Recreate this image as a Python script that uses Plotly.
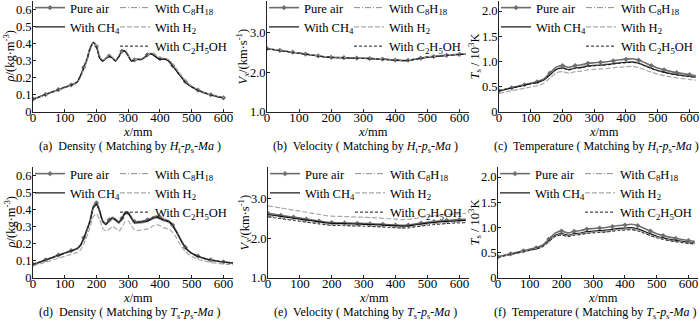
import plotly.graph_objects as go

# ---------------- data ----------------
X_DENS_A = list(range(0, 601, 10))
X_DENS_D = list(range(0, 631, 10))
X_VT = list(range(0, 621, 20))

SERIES = ["Pure air", "With CH<sub>4</sub>", "With C<sub>8</sub>H<sub>18</sub>",
          "With H<sub>2</sub>", "With C<sub>2</sub>H<sub>5</sub>OH"]

# (a) density, matching by Ht-ps-Ma
AIR_A = [0.075,0.082,0.089,0.096,0.103,0.110,0.117,0.124,0.131,0.138,0.145,0.151,0.158,0.165,0.178,0.215,0.262,0.310,0.375,0.408,0.385,0.318,0.300,0.315,0.328,0.318,0.300,0.325,0.356,0.358,0.330,0.300,0.305,0.310,0.308,0.318,0.335,0.342,0.335,0.320,0.312,0.312,0.308,0.295,0.272,0.248,0.222,0.200,0.178,0.160,0.148,0.138,0.128,0.120,0.113,0.107,0.101,0.096,0.091,0.087,0.083]
CH4_A = [0.074,0.081,0.088,0.095,0.102,0.109,0.116,0.123,0.130,0.137,0.144,0.150,0.157,0.164,0.176,0.212,0.258,0.306,0.370,0.404,0.382,0.316,0.298,0.313,0.326,0.316,0.298,0.322,0.353,0.355,0.328,0.298,0.303,0.308,0.306,0.316,0.333,0.340,0.333,0.318,0.310,0.310,0.306,0.293,0.270,0.246,0.220,0.198,0.176,0.159,0.147,0.137,0.127,0.119,0.112,0.106,0.100,0.095,0.090,0.086,0.082]
C8_A = [0.076,0.083,0.090,0.097,0.104,0.111,0.118,0.125,0.132,0.139,0.146,0.152,0.159,0.166,0.180,0.218,0.266,0.315,0.380,0.405,0.380,0.320,0.303,0.318,0.330,0.320,0.303,0.327,0.357,0.357,0.328,0.302,0.307,0.312,0.311,0.322,0.338,0.344,0.338,0.324,0.316,0.315,0.311,0.298,0.275,0.251,0.225,0.202,0.180,0.162,0.150,0.139,0.129,0.121,0.114,0.108,0.102,0.097,0.092,0.088,0.084]
H2_A = [0.073,0.080,0.087,0.094,0.101,0.108,0.115,0.122,0.129,0.136,0.143,0.149,0.156,0.162,0.172,0.205,0.250,0.298,0.360,0.402,0.392,0.330,0.304,0.314,0.330,0.322,0.304,0.318,0.350,0.362,0.338,0.306,0.303,0.310,0.310,0.316,0.330,0.345,0.345,0.330,0.318,0.316,0.314,0.303,0.282,0.258,0.232,0.208,0.185,0.165,0.152,0.141,0.131,0.122,0.115,0.108,0.102,0.097,0.092,0.088,0.084]
ETH_A = [0.075,0.082,0.089,0.096,0.103,0.110,0.117,0.124,0.131,0.138,0.145,0.151,0.158,0.165,0.177,0.214,0.261,0.309,0.373,0.407,0.384,0.317,0.299,0.314,0.327,0.317,0.299,0.324,0.355,0.357,0.329,0.299,0.304,0.309,0.307,0.317,0.334,0.341,0.334,0.319,0.311,0.311,0.307,0.294,0.271,0.247,0.221,0.199,0.177,0.160,0.148,0.138,0.128,0.120,0.113,0.107,0.101,0.096,0.091,0.087,0.083]

# (b) velocity, matching by Ht-ps-Ma
AIR_B = [2.600,2.577,2.554,2.531,2.508,2.485,2.462,2.439,2.416,2.393,2.378,2.374,2.370,2.366,2.361,2.356,2.350,2.342,2.333,2.322,2.311,2.300,2.306,2.330,2.360,2.385,2.400,2.415,2.430,2.445,2.455,2.460]
CH4_B = [2.598,2.575,2.552,2.529,2.506,2.483,2.460,2.437,2.414,2.391,2.376,2.372,2.368,2.364,2.359,2.354,2.348,2.340,2.331,2.320,2.309,2.298,2.304,2.328,2.358,2.383,2.398,2.413,2.428,2.443,2.453,2.458]
C8_B = [2.602,2.579,2.556,2.533,2.510,2.487,2.464,2.441,2.418,2.395,2.380,2.376,2.372,2.368,2.363,2.358,2.352,2.344,2.335,2.324,2.313,2.302,2.308,2.332,2.362,2.387,2.402,2.417,2.432,2.447,2.457,2.462]
H2_B = [2.605,2.582,2.559,2.536,2.513,2.490,2.467,2.444,2.421,2.398,2.383,2.379,2.375,2.371,2.366,2.361,2.355,2.347,2.338,2.327,2.316,2.305,2.311,2.335,2.365,2.390,2.405,2.420,2.435,2.450,2.460,2.465]
ETH_B = [2.596,2.573,2.550,2.527,2.504,2.481,2.458,2.435,2.412,2.389,2.374,2.370,2.366,2.362,2.357,2.352,2.346,2.338,2.329,2.318,2.307,2.296,2.302,2.326,2.356,2.381,2.396,2.411,2.426,2.441,2.451,2.456]

# (c) temperature (10^3 K), matching by Ht-ps-Ma
AIR_C = [0.42,0.45,0.48,0.51,0.54,0.57,0.60,0.65,0.77,0.89,0.92,0.885,0.92,0.935,0.965,0.975,0.985,0.995,1.015,1.035,1.045,1.055,1.03,0.975,0.92,0.87,0.835,0.805,0.78,0.76,0.74,0.72]
CH4_C = [0.42,0.448,0.476,0.504,0.532,0.56,0.588,0.63,0.735,0.845,0.875,0.84,0.872,0.885,0.913,0.922,0.932,0.941,0.958,0.975,0.983,0.992,0.968,0.918,0.868,0.823,0.79,0.762,0.74,0.722,0.705,0.69]
C8_C = [0.425,0.453,0.481,0.509,0.537,0.565,0.593,0.636,0.745,0.855,0.885,0.85,0.882,0.895,0.923,0.932,0.942,0.951,0.968,0.986,0.995,1.005,0.98,0.93,0.878,0.832,0.798,0.77,0.748,0.729,0.712,0.697]
H2_C = [0.37,0.395,0.42,0.445,0.47,0.495,0.52,0.565,0.67,0.775,0.80,0.77,0.80,0.81,0.835,0.845,0.853,0.86,0.875,0.89,0.897,0.905,0.88,0.835,0.79,0.75,0.72,0.695,0.675,0.66,0.645,0.63]
ETH_C = [0.418,0.446,0.474,0.502,0.530,0.558,0.586,0.627,0.730,0.838,0.868,0.833,0.865,0.878,0.905,0.914,0.924,0.933,0.950,0.967,0.975,0.984,0.96,0.91,0.861,0.816,0.784,0.756,0.734,0.716,0.700,0.685]

# (d) density, matching by Ts-ps-Ma
AIR_D = [0.080,0.086,0.093,0.100,0.107,0.113,0.120,0.127,0.134,0.140,0.147,0.154,0.160,0.167,0.175,0.195,0.235,0.285,0.340,0.420,0.440,0.395,0.335,0.320,0.340,0.355,0.345,0.330,0.350,0.385,0.385,0.355,0.330,0.330,0.332,0.335,0.340,0.348,0.358,0.362,0.355,0.345,0.340,0.332,0.310,0.280,0.245,0.210,0.180,0.160,0.146,0.136,0.128,0.121,0.115,0.110,0.106,0.103,0.100,0.097,0.094,0.092,0.090,0.088]
CH4_D = [0.078,0.084,0.091,0.098,0.105,0.111,0.118,0.125,0.131,0.138,0.145,0.151,0.158,0.164,0.172,0.191,0.230,0.279,0.333,0.410,0.430,0.387,0.328,0.313,0.333,0.347,0.338,0.323,0.343,0.377,0.377,0.348,0.323,0.323,0.325,0.328,0.333,0.341,0.350,0.354,0.348,0.338,0.333,0.325,0.304,0.274,0.240,0.206,0.177,0.157,0.143,0.134,0.126,0.119,0.113,0.108,0.104,0.101,0.098,0.095,0.093,0.091,0.089,0.087]
C8_D = [0.077,0.083,0.090,0.097,0.103,0.110,0.116,0.123,0.130,0.136,0.143,0.149,0.156,0.162,0.170,0.188,0.226,0.275,0.328,0.405,0.425,0.382,0.324,0.309,0.329,0.343,0.334,0.319,0.339,0.372,0.372,0.343,0.319,0.319,0.321,0.324,0.329,0.336,0.346,0.350,0.343,0.334,0.329,0.321,0.300,0.270,0.236,0.203,0.174,0.155,0.141,0.132,0.124,0.117,0.111,0.106,0.102,0.099,0.096,0.093,0.091,0.089,0.087,0.085]
H2_D = [0.070,0.076,0.081,0.087,0.093,0.098,0.104,0.110,0.116,0.121,0.127,0.133,0.138,0.144,0.150,0.165,0.200,0.245,0.300,0.360,0.375,0.340,0.290,0.275,0.285,0.300,0.292,0.275,0.295,0.330,0.335,0.305,0.282,0.278,0.280,0.283,0.288,0.296,0.306,0.312,0.306,0.295,0.290,0.284,0.266,0.240,0.208,0.178,0.155,0.138,0.127,0.118,0.110,0.104,0.099,0.095,0.091,0.088,0.086,0.084,0.082,0.080,0.079,0.078]
ETH_D = [0.079,0.085,0.092,0.099,0.106,0.112,0.119,0.126,0.133,0.139,0.146,0.153,0.159,0.166,0.174,0.193,0.233,0.283,0.337,0.416,0.436,0.392,0.332,0.317,0.337,0.352,0.342,0.327,0.347,0.382,0.382,0.352,0.327,0.327,0.329,0.332,0.337,0.345,0.355,0.359,0.352,0.342,0.337,0.329,0.307,0.277,0.243,0.208,0.179,0.159,0.145,0.135,0.127,0.120,0.114,0.109,0.105,0.102,0.099,0.096,0.093,0.091,0.089,0.087]

# (e) velocity, matching by Ts-ps-Ma
AIR_E = [2.630,2.606,2.582,2.558,2.534,2.510,2.486,2.462,2.438,2.414,2.398,2.394,2.390,2.385,2.380,2.375,2.369,2.362,2.354,2.345,2.337,2.328,2.334,2.358,2.385,2.408,2.425,2.440,2.452,2.464,2.474,2.480]
CH4_E = [2.600,2.577,2.554,2.531,2.508,2.485,2.462,2.439,2.416,2.393,2.378,2.374,2.370,2.365,2.360,2.355,2.349,2.342,2.334,2.325,2.317,2.308,2.314,2.337,2.362,2.383,2.400,2.414,2.426,2.437,2.446,2.452]
C8_E = [2.560,2.538,2.516,2.494,2.472,2.450,2.428,2.406,2.384,2.362,2.347,2.343,2.339,2.334,2.329,2.324,2.318,2.311,2.303,2.294,2.286,2.277,2.283,2.305,2.329,2.350,2.366,2.380,2.392,2.402,2.410,2.415]
H2_E = [2.820,2.793,2.766,2.739,2.712,2.685,2.658,2.631,2.604,2.577,2.560,2.555,2.550,2.544,2.538,2.532,2.525,2.516,2.506,2.495,2.483,2.470,2.476,2.500,2.527,2.550,2.570,2.587,2.601,2.613,2.623,2.630]
ETH_E = [2.540,2.518,2.496,2.474,2.452,2.430,2.408,2.386,2.364,2.342,2.328,2.324,2.320,2.315,2.310,2.305,2.299,2.292,2.284,2.275,2.267,2.258,2.264,2.286,2.310,2.330,2.346,2.360,2.372,2.382,2.390,2.395]

# (f) temperature (10^3 K), matching by Ts-ps-Ma
AIR_F = [0.42,0.45,0.48,0.51,0.54,0.57,0.60,0.65,0.77,0.89,0.93,0.895,0.925,0.94,0.97,0.98,0.99,1.00,1.02,1.04,1.05,1.065,1.04,0.985,0.93,0.875,0.84,0.81,0.785,0.762,0.742,0.725]
CH4_F = [0.415,0.443,0.471,0.499,0.527,0.555,0.583,0.628,0.735,0.845,0.88,0.85,0.878,0.892,0.918,0.928,0.938,0.947,0.965,0.982,0.99,1.0,0.975,0.925,0.875,0.828,0.795,0.767,0.744,0.725,0.708,0.693]
C8_F = [0.413,0.441,0.469,0.497,0.525,0.553,0.581,0.624,0.728,0.836,0.870,0.838,0.866,0.879,0.905,0.914,0.923,0.932,0.949,0.966,0.974,0.983,0.958,0.909,0.86,0.814,0.781,0.754,0.732,0.714,0.698,0.684]
H2_F = [0.412,0.44,0.467,0.495,0.522,0.55,0.577,0.62,0.722,0.828,0.86,0.828,0.855,0.868,0.893,0.902,0.911,0.92,0.936,0.952,0.96,0.968,0.944,0.896,0.848,0.803,0.771,0.745,0.724,0.706,0.69,0.677]
ETH_F = [0.41,0.438,0.465,0.492,0.519,0.546,0.573,0.615,0.716,0.82,0.852,0.82,0.847,0.86,0.884,0.893,0.902,0.91,0.926,0.942,0.95,0.957,0.934,0.887,0.84,0.796,0.765,0.739,0.718,0.70,0.685,0.672]

CAPTIONS = [
    "(a)  Density ( Matching by <i>H</i><sub>t</sub>-<i>p</i><sub>s</sub>-<i>Ma</i> )",
    "(b)  Velocity ( Matching by <i>H</i><sub>t</sub>-<i>p</i><sub>s</sub>-<i>Ma</i> )",
    "(c)  Temperature ( Matching by <i>H</i><sub>t</sub>-<i>p</i><sub>s</sub>-<i>Ma</i> )",
    "(d)  Density ( Matching by <i>T</i><sub>s</sub>-<i>p</i><sub>s</sub>-<i>Ma</i> )",
    "(e)  Velocity ( Matching by <i>T</i><sub>s</sub>-<i>p</i><sub>s</sub>-<i>Ma</i> )",
    "(f)  Temperature ( Matching by <i>T</i><sub>s</sub>-<i>p</i><sub>s</sub>-<i>Ma</i> )",
]
Y_TITLES = {
    "dens": "<i>ρ</i>/(kg·m<sup>-3</sup>)",
    "vel": "<i>V</i><sub><i>x</i></sub>/(km·s<sup>-1</sup>)",
    "temp": "<i>T</i><sub>s</sub> / 10<sup>3</sup>K",
}
X_TITLE = "<i>x</i>/mm"
X_TICKS = [0, 100, 200, 300, 400, 500, 600]
DENS_TICKS = [0, 0.1, 0.2, 0.3, 0.4, 0.5, 0.6]
DENS_TICKTEXT = ["0", "0.1", "0.2", "0.3", "0.4", "0.5", "0.6"]
VEL_TICKS = [1.0, 2.0, 3.0]
VEL_TICKTEXT = ["1.0", "2.0", "3.0"]
TEMP_TICKS = [0, 0.5, 1.0, 1.5, 2.0]
TEMP_TICKTEXT = ["0", "0.5", "1.0", "1.5", "2.0"]

# ---------------- styling / layout ----------------
W, H = 700, 321
FONT = "Liberation Serif"
STYLES = [
    dict(color="#6e6e6e", width=1.6, dash="solid"),
    dict(color="#111111", width=1.2, dash="solid"),
    dict(color="#8c8c8c", width=1.0, dash="6px,2px,1px,2px"),
    dict(color="#a8a8a8", width=1.2, dash="5px,2px"),
    dict(color="#1a1a1a", width=1.0, dash="3px,2px"),
]

# panel pixel boxes: left, right, top, bottom
BOXES = [(33, 233, 1, 112), (267, 469, 1, 112), (499, 699, 1, 112),
         (33, 233, 167, 278), (268, 469, 167, 278), (498, 698, 167, 278)]
LEGEND_TOP = [-7, -7, -7, 159, 159, 159]

PANELS = [
    (X_DENS_A, [AIR_A, CH4_A, C8_A, H2_A, ETH_A], "dens", [0, 0.65], 4),
    (X_VT, [AIR_B, CH4_B, C8_B, H2_B, ETH_B], "vel", [1.0, 3.8], 2),
    (X_VT, [AIR_C, CH4_C, C8_C, H2_C, ETH_C], "temp", [0, 2.2], 2),
    (X_DENS_D, [AIR_D, CH4_D, C8_D, H2_D, ETH_D], "dens", [0, 0.65], 4),
    (X_VT, [AIR_E, CH4_E, C8_E, H2_E, ETH_E], "vel", [1.0, 3.8], 2),
    (X_VT, [AIR_F, CH4_F, C8_F, H2_F, ETH_F], "temp", [0, 2.2], 2),
]
TICKS = {"dens": (DENS_TICKS, DENS_TICKTEXT), "vel": (VEL_TICKS, VEL_TICKTEXT),
         "temp": (TEMP_TICKS, TEMP_TICKTEXT)}

for xs, ys_list, _, _, _ in PANELS:
    for ys in ys_list:
        assert len(xs) == len(ys), (len(xs), len(ys))


def px(x):
    return x / W


def py(y):
    return 1 - y / H


fig = go.Figure()
layout = dict(
    width=W, height=H, margin=dict(l=0, r=0, t=0, b=0, autoexpand=False),
    paper_bgcolor="white", plot_bgcolor="white",
    font=dict(family=FONT, size=13, color="black"),
    showlegend=True, annotations=[],
)

for i, (xs, ys_list, kind, yr, mstep) in enumerate(PANELS):
    n = i + 1
    sfx = "" if n == 1 else str(n)
    L, R, T, B = BOXES[i]
    leg_left = "legend" if n == 1 else f"legend{2 * n - 1}"
    leg_right = f"legend{2 * n}"
    for k, (name, ys) in enumerate(zip(SERIES, ys_list)):
        st = STYLES[k]
        tr = dict(
            x=xs, y=ys, name=name, xaxis="x" + sfx, yaxis="y" + sfx,
            line=dict(color=st["color"], width=st["width"], dash=st["dash"],
                      shape="spline", smoothing=0.6),
            legend=leg_left if k < 2 else leg_right,
            hoverinfo="skip",
        )
        if k == 0:
            tr.update(mode="lines+markers",
                      marker=dict(symbol="diamond", size=4, color="#6e6e6e"),
                      selectedpoints=list(range(0, len(xs), mstep)),
                      selected=dict(marker=dict(opacity=1)),
                      unselected=dict(marker=dict(opacity=0)))
        else:
            tr.update(mode="lines")
        fig.add_trace(go.Scatter(**tr))

    tv, tt = TICKS[kind]
    layout["xaxis" + sfx] = dict(
        domain=[px(L), px(R)], range=[0, 630], anchor="y" + sfx,
        tickvals=X_TICKS, ticks="inside", ticklen=3, tickcolor="#222",
        showline=True, linecolor="#222", linewidth=1, mirror=False,
        showgrid=False, zeroline=False, tickfont=dict(size=13, family=FONT),
        ticklabelstandoff=-7,
    )
    layout["yaxis" + sfx] = dict(
        domain=[py(B), py(T)], range=yr, anchor="x" + sfx,
        tickvals=tv, ticktext=tt, ticks="inside", ticklen=3, tickcolor="#222",
        showline=True, linecolor="#222", linewidth=1, mirror=False,
        showgrid=False, zeroline=False, tickfont=dict(size=12.5, family=FONT),
        ticklabelstandoff=-2,
    )
    # legends (two columns)
    lt = LEGEND_TOP[i]
    layout[leg_left] = dict(x=px(L - 3), y=py(lt), xanchor="left", yanchor="top",
                            bgcolor="rgba(0,0,0,0)", borderwidth=0,
                            font=dict(size=12.5, family=FONT), itemwidth=30,
                            tracegroupgap=0)
    layout[leg_right] = dict(x=px(L + 82), y=py(lt), xanchor="left", yanchor="top",
                             bgcolor="rgba(0,0,0,0)", borderwidth=0,
                             font=dict(size=12.5, family=FONT), itemwidth=30,
                             tracegroupgap=0)
    cx = (L + R) / 2
    cy = (T + B) / 2
    layout["annotations"] += [
        dict(text=Y_TITLES[kind], x=px(L - 24), y=py(cy), xref="paper", yref="paper",
             textangle=-90, showarrow=False, xanchor="center", yanchor="middle",
             font=dict(size=12.5, family=FONT)),
        dict(text=X_TITLE, x=px(cx + 5), y=py(B + 20), xref="paper", yref="paper",
             showarrow=False, xanchor="center", yanchor="middle",
             font=dict(size=12.5, family=FONT)),
        dict(text=CAPTIONS[i], x=px(cx - 3), y=py(B + 35), xref="paper", yref="paper",
             showarrow=False, xanchor="center", yanchor="middle",
             font=dict(size=12, family=FONT)),
    ]

fig.update_layout(**layout)
fig.write_html("out.html", config={"displayModeBar": False},
               post_script="document.body.style.margin='0';document.body.style.overflow='hidden';")
